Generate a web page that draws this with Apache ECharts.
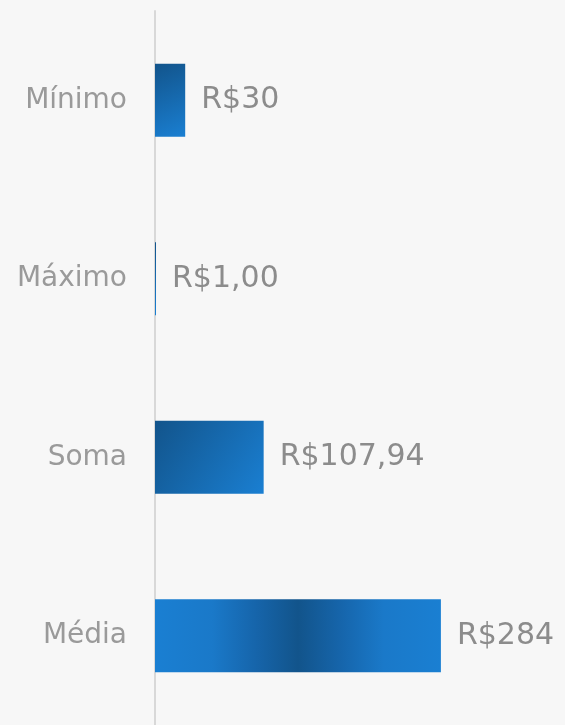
<!DOCTYPE html>
<html lang="pt">
<head>
    <meta charset="UTF-8">
    <title>Resumo</title>
    <style>
        html, body { margin: 0; padding: 0; background: #f7f7f7; }
    </style>
</head>
<body>
<div id="main" style="height: 725px;width: 565px"></div>
<script src="https://cdn.jsdelivr.net/npm/echarts@6/dist/echarts.min.js"></script>
<script>
    var categories = ['Mínimo', 'Máximo', 'Soma', 'Média'];
    var values = [30, 1, 107.94, 284];
    var valueLabels = ['R$30', 'R$1,00', 'R$107,94', 'R$284'];

    var dark = '#12548b';
    var light = '#1a7fd2';

    function diagonal() {
        return new echarts.graphic.LinearGradient(0, 0, 1, 1, [
            {offset: 0, color: dark},
            {offset: 1, color: light}
        ]);
    }

    // media bar: dark in the middle, fading out to both ends
    function centered() {
        return new echarts.graphic.LinearGradient(0, 0, 1, 0, [
            {offset: 0, color: light},
            {offset: 0.2, color: '#1a79c9'},
            {offset: 0.35, color: '#1665ab'},
            {offset: 0.5, color: dark},
            {offset: 0.65, color: '#1665ab'},
            {offset: 0.8, color: '#1a79c9'},
            {offset: 1, color: light}
        ]);
    }

    var seriesData = values.map(function (v, i) {
        return {
            value: v,
            itemStyle: {color: i === 3 ? centered() : diagonal()},
            label: {formatter: valueLabels[i]}
        };
    });

    var myChart = echarts.init(document.getElementById('main'));
    var option = {
        backgroundColor: '#f7f7f7',
        animation: false,
        grid: {left: 155, right: 108, top: 11, height: 716},
        xAxis: {
            type: 'value',
            min: 0,
            max: 300,
            show: false
        },
        yAxis: {
            type: 'category',
            data: categories,
            inverse: true,
            axisLine: {show: true, lineStyle: {color: '#d8d8d8', width: 2}},
            axisTick: {show: false},
            axisLabel: {
                margin: 28,
                color: '#9a9a9a',
                fontSize: 28,
                fontFamily: 'DejaVu Sans',
                padding: [4, 0, 0, 0]
            }
        },
        series: [{
            type: 'bar',
            data: seriesData,
            barWidth: 73,
            label: {
                show: true,
                position: 'right',
                distance: 16,
                color: '#8c8c8c',
                fontSize: 30,
                fontFamily: 'DejaVu Sans',
                padding: [5, 0, 0, 0]
            }
        }]
    };

    myChart.setOption(option);
</script>
</body>
</html>
